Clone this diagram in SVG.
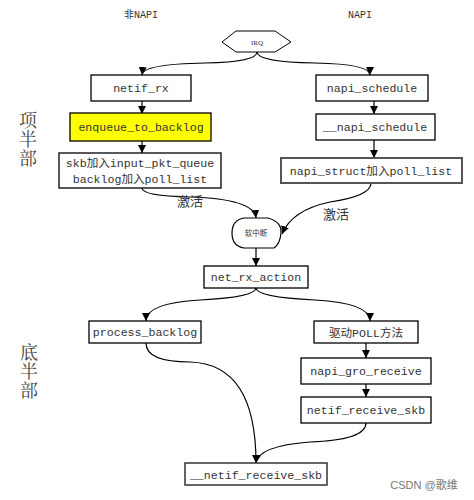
<svg xmlns="http://www.w3.org/2000/svg" width="474" height="500" viewBox="0 0 474 500">
<defs>
<marker id="ah" viewBox="0 0 10 10" refX="10" refY="5" markerWidth="8" markerHeight="8" markerUnits="userSpaceOnUse" orient="auto">
<path d="M0,0 L10,5 L0,10 Z" fill="#000"/>
</marker>
<style>
.box{fill:#fff;stroke:#000;stroke-width:1.3}
.t{font-family:"Liberation Mono","Noto Sans CJK SC",monospace;font-size:11.6px;fill:#333;text-anchor:middle}
.h{font-family:"Liberation Mono","Noto Sans CJK SC",monospace;font-size:10px;fill:#333;text-anchor:middle}
.side{font-family:"Liberation Serif","Noto Serif CJK SC","Noto Sans CJK SC",serif;font-size:18px;fill:#444;text-anchor:middle}
.lbl{font-family:"Liberation Serif","Noto Sans CJK SC",serif;font-size:13px;fill:#333;text-anchor:middle}
.c{fill:none;stroke:#000;stroke-width:1.2;marker-end:url(#ah)}
</style>
</defs>
<rect width="474" height="500" fill="#fff"/>
<text class="h" x="141" y="18">非NAPI</text>
<text class="h" x="360" y="18">NAPI</text>
<text class="side" x="28" y="127">项</text>
<text class="side" x="28" y="146">半</text>
<text class="side" x="28" y="165">部</text>
<text class="side" x="29" y="359">底</text>
<text class="side" x="29" y="378">半</text>
<text class="side" x="29" y="397">部</text>

<g id="connectors">
<path class="c" d="M257,52 Q257,62 205,63 Q143,64 142,75"/>
<path class="c" d="M257,52 Q257,62 315,63 Q370,64 370,75"/>
<path class="c" d="M142,101 L142,114"/>
<path class="c" d="M374,101 L374,114"/>
<path class="c" d="M142,140 L142,153"/>
<path class="c" d="M374,140 L374,158"/>
<path class="c" d="M142,188 Q142,196 190,197 Q254,199 256,218"/>
<path class="c" d="M371,183 Q371,196 330,202 Q292,210 282,234"/>
<path class="c" d="M256,248 L256,266"/>
<path class="c" d="M256,288 Q256,297 200,300 Q146,303 146,321"/>
<path class="c" d="M256,288 Q256,297 315,300 Q370,303 370,321"/>
<path class="c" d="M366,343 L366,358"/>
<path class="c" d="M366,384 L366,397"/>
<path class="c" d="M146,343 Q146,362 190,362 Q256,364 256,463"/>
<path class="c" d="M366,423 Q366,440 310,442 Q258,446 256,463"/>
</g>

<g id="irq">
<path d="M222,42 L236,31 L275,31 L291,42 L275,52 L236,52 Z" fill="#fff" stroke="#000" stroke-width="1"/>
<text x="257" y="45" font-family="Liberation Serif,serif" font-size="7" fill="#333" text-anchor="middle">IRQ</text>
</g>
<g id="netif_rx">
<rect class="box" x="91" y="75" width="100" height="26"/>
<text class="t" x="141" y="92">netif_rx</text>
</g>
<g id="napi_schedule">
<rect class="box" x="316" y="75" width="112" height="26"/>
<text class="t" x="372" y="92">napi_schedule</text>
</g>
<g id="enqueue_to_backlog">
<rect x="70" y="113" width="141" height="28" fill="#ffff00" stroke="#000" stroke-width="1.3"/>
<text class="t" x="141" y="131">enqueue_to_backlog</text>
</g>
<g id="__napi_schedule">
<rect class="box" x="316" y="114" width="119" height="26"/>
<text class="t" x="375" y="131">__napi_schedule</text>
</g>
<g id="skb">
<rect class="box" x="59" y="153" width="162" height="35"/>
<text class="t" x="140" y="167">skb加入input_pkt_queue</text>
<text class="t" x="140" y="183">backlog加入poll_list</text>
</g>
<g id="napi_struct">
<rect x="281" y="158" width="181" height="25" fill="#fff" stroke="#555" stroke-width="2"/>
<text class="t" x="371" y="175">napi_struct加入poll_list</text>
</g>
<text class="lbl" x="190" y="206">激活</text>
<text class="lbl" x="336" y="219">激活</text>
<g id="softirq">
<path d="M244,218 H268 Q282,222 281,233 Q280,244 274,248 H244 Q232,246 232,233 Q232,220 244,218 Z" fill="#fff" stroke="#000" stroke-width="1.2"/>
<text x="256" y="236" font-family="Liberation Serif,'Noto Sans CJK SC',serif" font-size="7.5" fill="#333" text-anchor="middle">软中断</text>
</g>
<g id="net_rx_action">
<rect class="box" x="204" y="266" width="104" height="22"/>
<text class="t" x="256" y="281">net_rx_action</text>
</g>
<g id="process_backlog">
<rect class="box" x="89" y="321" width="112" height="22"/>
<text class="t" x="145" y="336">process_backlog</text>
</g>
<g id="poll">
<rect class="box" x="314" y="321" width="104" height="22"/>
<text class="t" x="366" y="337">驱动POLL方法</text>
</g>
<g id="napi_gro_receive">
<rect class="box" x="301" y="358" width="130" height="26"/>
<text class="t" x="366" y="375">napi_gro_receive</text>
</g>
<g id="netif_receive_skb">
<rect class="box" x="301" y="397" width="130" height="26"/>
<text class="t" x="366" y="414">netif_receive_skb</text>
</g>
<g id="__netif_receive_skb">
<rect x="185" y="463" width="142" height="22" fill="#fff" stroke="#333" stroke-width="1.5"/>
<text class="t" x="256" y="479">__netif_receive_skb</text>
</g>
<text x="424" y="489" font-family="Liberation Sans,'Noto Sans CJK SC',sans-serif" font-size="11" fill="#777" text-anchor="middle">CSDN @歌维</text>
</svg>
